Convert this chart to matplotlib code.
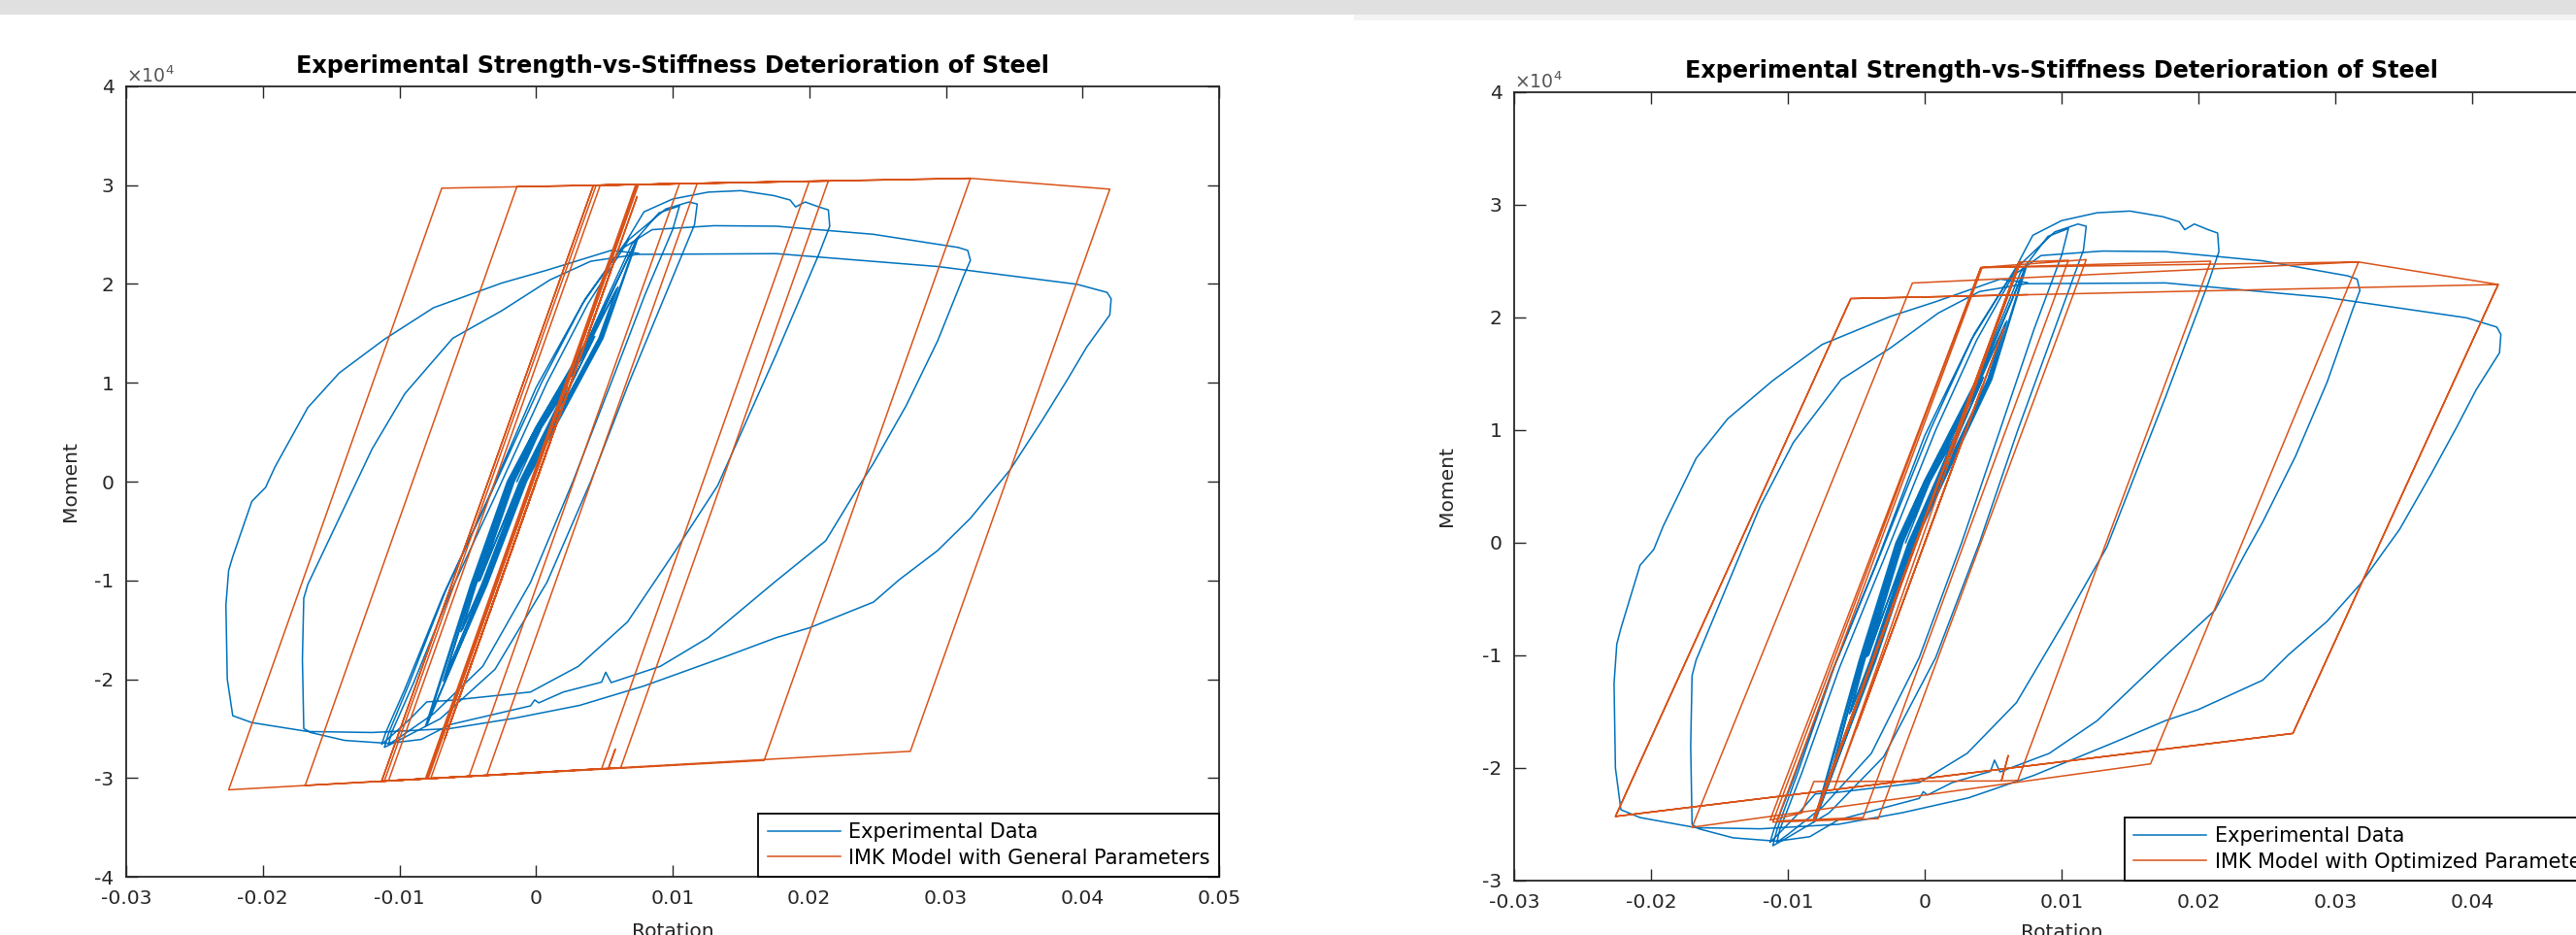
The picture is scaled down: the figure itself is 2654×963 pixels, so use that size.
import matplotlib
matplotlib.use("Agg")
import matplotlib.pyplot as plt
from matplotlib.patches import Rectangle

plt.rcParams['font.family'] = ['DejaVu Sans']
plt.rcParams['axes.unicode_minus'] = False

# ---------------- data ----------------
title_text = "Experimental Strength-vs-Stiffness Deterioration of Steel"
x_label = "Rotation"
y_label = "Moment"
legend_exp = "Experimental Data"
legend_gen = "IMK Model with General Parameters"
legend_opt = "IMK Model with Optimized Parameters"

x_ticks = [-0.03, -0.02, -0.01, 0, 0.01, 0.02, 0.03, 0.04, 0.05]
x_tick_labels = ["-0.03", "-0.02", "-0.01", "0", "0.01", "0.02", "0.03", "0.04", "0.05"]
y_ticks_left = [-40000, -30000, -20000, -10000, 0, 10000, 20000, 30000, 40000]
y_tick_labels_left = ["-4", "-3", "-2", "-1", "0", "1", "2", "3", "4"]
y_ticks_right = [-30000, -20000, -10000, 0, 10000, 20000, 30000, 40000]
y_tick_labels_right = ["-3", "-2", "-1", "0", "1", "2", "3", "4"]

# experimental hysteresis (rotation, moment)
exp_rotation = [
    -0.0014, 0.0004, 0.0022, 0.0008, -0.0012, -0.0041, -0.0016, 0.0004, 0.0023, 0.0009,
    -0.0011, -0.0042, -0.0017, 0.0003, 0.0042, 0.0010, -0.0011, -0.0040, -0.0054, -0.0044,
    -0.0017, 0.0003, 0.0043, 0.0010, -0.0010, -0.0039, -0.0055, -0.0045, -0.0018, 0.0002,
    0.0041, 0.0059, 0.0046, 0.0011, -0.0010, -0.0039, -0.0067, -0.0046, -0.0018, 0.0002,
    0.0040, 0.0060, 0.0047, 0.0012, -0.0009, -0.0038, -0.0068, -0.0046, -0.0019, 0.0001,
    0.0040, 0.0074, 0.0048, 0.0013, -0.0008, -0.0037, -0.0080, -0.0047, -0.0020, 0.0000,
    0.0039, 0.0075, 0.0049, 0.0014, -0.0007, -0.0036, -0.0081,
    -0.0048, -0.0021, 0.0000, 0.0040, 0.0070, 0.0090, 0.0105, 0.0100, 0.0080, 0.0055,
    0.0027, -0.0004, -0.0039, -0.0075, -0.0100, -0.0108, -0.0106, -0.0090, -0.0062, -0.0030,
    0.0008, 0.0038, 0.0068, 0.0095, 0.0112, 0.0118, 0.0116, 0.0095, 0.0068, 0.0040,
    0.0008, -0.0030, -0.0070, -0.0102, -0.0111, -0.0108, -0.0093, -0.0066, -0.0034, 0.0004,
    0.0036, 0.0066, 0.0079, 0.0100, 0.0126, 0.0150, 0.0174, 0.0186, 0.0190, 0.0197,
    0.0207, 0.0214, 0.0215, 0.0207, 0.0176, 0.0133, 0.0102, 0.0067, 0.0031, -0.0004,
    -0.0063, -0.0080, -0.0092, -0.0108, -0.0113, -0.0110, -0.0096, -0.0068, -0.0036, 0.0000,
    0.0034, 0.0062, 0.0085, 0.0130, 0.0176, 0.0247, 0.0300, 0.0309, 0.0316, 0.0318,
    0.0313, 0.0294, 0.0271, 0.0247, 0.0235, 0.0212, 0.0174, 0.0126, 0.0091, 0.0055,
    0.0051, 0.0048, 0.0020, 0.0002, -0.0001, -0.0004, -0.0063, -0.0084, -0.0108, -0.0140,
    -0.0165, -0.0170, -0.0171, -0.0170, -0.0167, -0.0144, -0.0120, -0.0096, -0.0061, -0.0025,
    0.0010, 0.0040, 0.0074, 0.0176, 0.0294, 0.0396, 0.0418, 0.0421, 0.0420, 0.0403,
    0.0389, 0.0370, 0.0347, 0.0318, 0.0294, 0.0266, 0.0247, 0.0200, 0.0176, 0.0138,
    0.0079, 0.0032, -0.0016, -0.0063, -0.0120, -0.0167, -0.0208, -0.0222, -0.0226, -0.0227,
    -0.0225, -0.0222, -0.0208, -0.0198, -0.0191, -0.0167, -0.0144, -0.0111, -0.0075, -0.0025,
    0.0008, 0.0055, 0.0075,
]
exp_moment = [
    0, 5500, 9500, 5500, 0, -10000, 0, 5500, 9600, 5500,
    0, -10100, 0, 5500, 14500, 5500, 0, -10500, -15000, -10500,
    0, 5500, 14700, 5500, 0, -10500, -15200, -10500, 0, 5500,
    14500, 19500, 14500, 5500, 0, -10500, -20000, -10500, 0, 5500,
    14500, 19700, 14500, 5500, 0, -10500, -20200, -10500, 0, 5500,
    14500, 24600, 14500, 5500, 0, -10500, -24700, -10500, 0, 5500,
    14500, 24800, 14500, 5500, 0, -10500, -24800,
    -10500, 0, 5500, 15000, 24000, 27200, 27900, 25500, 19000, 10000,
    0, -10200, -18700, -23500, -25900, -26600, -25500, -20500, -11000, -1500,
    10000, 18000, 24500, 27600, 28300, 28100, 26000, 19000, 10000, 0,
    -10200, -19000, -24000, -26300, -26900, -25500, -20500, -11000, -1500, 10000,
    18500, 24300, 27300, 28600, 29300, 29450, 28950, 28500, 27800, 28300,
    27800, 27500, 25850, 23000, 12950, -400, -7000, -14200, -18700, -21300,
    -22150, -22300, -24000, -26000, -26600, -25400, -21000, -11500, -2000, 9500,
    18000, 23500, 25500, 25900, 25850, 25030, 23900, 23700, 23400, 22400,
    20800, 14250, 7700, 1850, -770, -6000, -10250, -15800, -18700, -20350,
    -19300, -20300, -21300, -22400, -22100, -22700, -24600, -26100, -26500, -26200,
    -25400, -25000, -18000, -11800, -10400, -3700, 3300, 8900, 14500, 17300,
    20400, 22300, 23000, 23070, 21770, 19970, 19150, 18500, 16870, 13600,
    10330, 6090, 1190, -3710, -6980, -9920, -12200, -14810, -15790, -17750,
    -20690, -22650, -23960, -25000, -25400, -25300, -24400, -23700, -20000, -12500,
    -9000, -7600, -2000, -600, 1500, 7500, 11000, 14400, 17600, 20100,
    21400, 23400, 23100,
]

# IMK model, general parameters (path vertices)
gen_rotation = [
    0.0, 0.0026, -0.0034, 0.0027, -0.0035, 0.0042, -0.0050, 0.0043, -0.0051, 0.0058,
    -0.0066, 0.0059, -0.0067, 0.0074, -0.0077, -0.0080, 0.0074, 0.0075, -0.0079, -0.0081,
    0.0073, 0.0105, -0.0049, -0.0108, 0.0047, 0.0118, -0.0036, -0.0111, 0.0044, 0.0200,
    0.0048, -0.0113, 0.0042, 0.0214, 0.0062, 0.0053, 0.0058, 0.0053, -0.0113, 0.0042,
    0.0318, 0.0167, -0.0169, -0.0014, 0.0318, 0.0420, 0.0274, -0.0225, -0.0069, 0.0075,
]
gen_moment = [
    0, 10100, -13300, 10500, -13650, 16400, -19500, 16800, -19900, 22600,
    -25700, 23000, -26100, 28860, -30030, -30070, 30060, 30065, -30060, -30100,
    30050, 30150, -29830, -30290, 30000, 30190, -29730, -30310, 29990, 30400,
    -29070, -30330, 29990, 30440, -28960, -29030, -27100, -29030, -30330, 29990,
    30700, -28220, -30760, 29850, 30700, 29600, -27300, -31200, 29700, 30070,
]

# IMK model, optimized parameters (path vertices)
opt_rotation = [
    0.0, 0.0042, -0.0050, 0.0058, -0.0066, 0.0069, -0.0080, 0.0070, -0.0081, 0.0069,
    0.0105, -0.0045, -0.0108, 0.0042, 0.0118, -0.0034, -0.0111, 0.0041, 0.0209, 0.0068,
    0.0056, 0.0061, 0.0056, -0.0081, -0.0090, -0.0113, 0.0041, 0.0317, 0.0165, -0.0170,
    -0.0009, 0.0317, 0.0419, 0.0269, -0.0226, -0.0054, 0.0419, 0.0269, -0.0226, -0.0054,
    0.0075,
]
opt_moment = [
    0, 13900, -16500, 19100, -21800, 24930, -24420, 24950, -24450, 24930,
    25080, -24400, -24700, 24450, 25140, -24500, -24800, 24430, 25000, -21100,
    -21150, -18900, -21150, -21200, -24000, -24630, 24430, 24930, -19630, -25260,
    23060, 24930, 22930, -16930, -24300, 21680, 22930, -16930, -24300, 21680,
    22030,
]

# ---------------- styling ----------------
BLUE = '#0072BD'
ORANGE = '#D95319'
AX_COL = '#262626'
FS = 14.6

W, H = 2654, 963
fig = plt.figure(figsize=(W / 100, H / 100), dpi=100)
fig.patch.set_facecolor('white')
fig.patches.append(Rectangle((0, 1 - 15 / H), 1, 15 / H, transform=fig.transFigure,
                             facecolor='#e0e0e0', edgecolor='none', zorder=0))
fig.patches.append(Rectangle((1395 / W, 1 - 21 / H), 1 - 1395 / W, 6 / H, transform=fig.transFigure,
                             facecolor='#f3f3f3', edgecolor='none', zorder=0))

ax1 = fig.add_axes([130 / W, 1 - 903 / H, 1126 / W, 814 / H])
ax2 = fig.add_axes([1560 / W, 1 - 907 / H, 1128 / W, 812 / H])


def style(ax, yticks, ylabels, ylim, model_rot, model_mom, model_label, title_pad, xlab_y, ylab_x):
    ax.plot(exp_rotation, exp_moment, color=BLUE, lw=1.1, label=legend_exp, zorder=2)
    ax.plot(model_rot, model_mom, color=ORANGE, lw=1.1, label=model_label, zorder=3)
    ax.set_xlim(-0.03, 0.05)
    ax.set_ylim(*ylim)
    ax.set_xticks(x_ticks)
    ax.set_xticklabels(x_tick_labels)
    ax.set_yticks(yticks)
    ax.set_yticklabels(ylabels)
    ax.tick_params(direction='in', length=8.5, width=1.0, color=AX_COL, labelcolor=AX_COL,
                   labelsize=FS, top=True, right=True, pad=9)
    for sp in ax.spines.values():
        sp.set_linewidth(1.3)
        sp.set_color(AX_COL)
    ax.set_title(title_text, fontsize=17.2, fontweight='bold', color='black', pad=title_pad)
    ax.set_xlabel(x_label, fontsize=FS, color=AX_COL)
    ax.set_ylabel(y_label, fontsize=FS, color=AX_COL)
    ax.xaxis.set_label_coords(0.5, xlab_y)
    ax.yaxis.set_label_coords(ylab_x, 0.5)
    ax.text(0.0, 1.0, r'$\times 10^{4}$', transform=ax.transAxes, ha='left', va='bottom',
            fontsize=FS - 1, color='#555555')
    leg = ax.legend(loc='lower right', borderaxespad=0, frameon=True, fancybox=False,
                    edgecolor='black', framealpha=1, fontsize=15, handlelength=3.6,
                    handletextpad=0.4, borderpad=0.45, labelspacing=0.3)
    leg.get_frame().set_linewidth(1.3)


style(ax1, y_ticks_left, y_tick_labels_left, (-40000, 40000), gen_rotation, gen_moment,
      legend_gen, 10, -0.058, -0.043)
style(ax2, y_ticks_right, y_tick_labels_right, (-30000, 40000), opt_rotation, opt_moment,
      legend_opt, 10.5, -0.054, -0.053)

fig.savefig('out.png', dpi=100)
